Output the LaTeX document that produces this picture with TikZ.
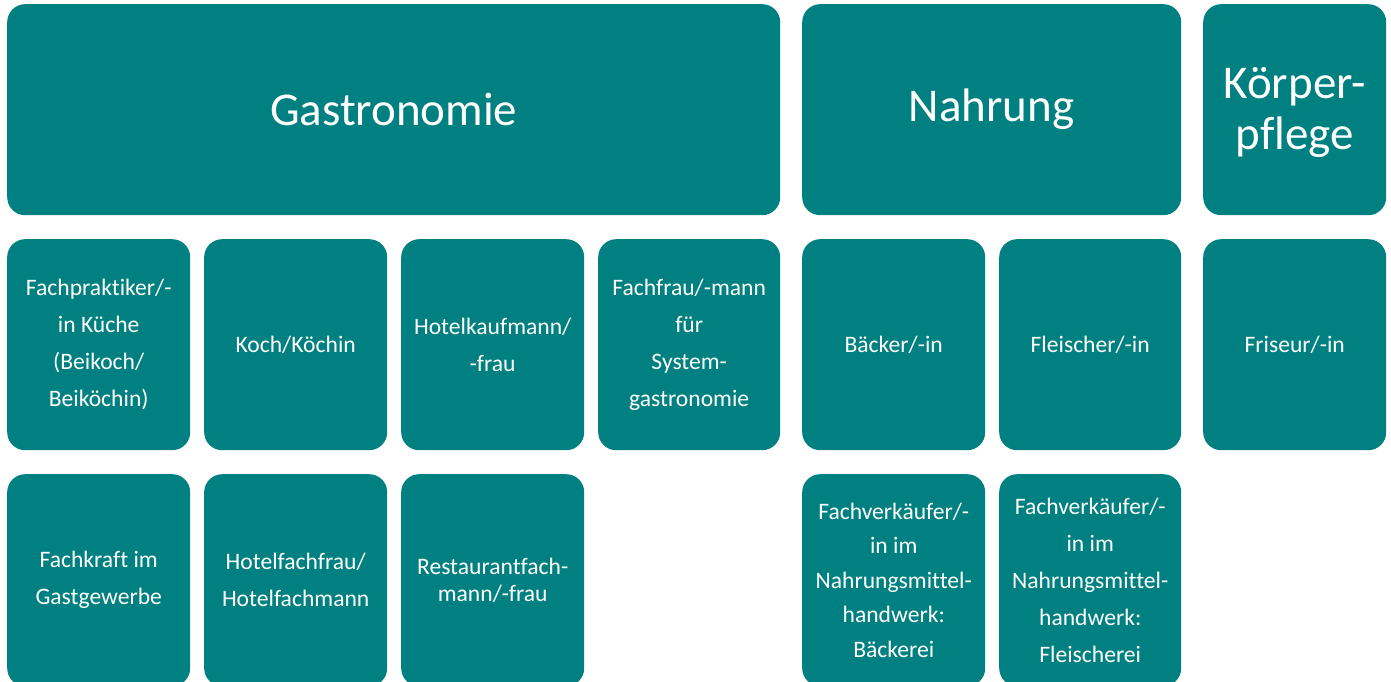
\documentclass[tikz,border=0pt]{standalone}
\usepackage{fontspec}
\setmainfont{Carlito}[Ligatures=NoCommon]
\definecolor{tealbox}{RGB}{0,128,128}
\begin{document}
\begin{tikzpicture}[x=1pt,y=-1pt,
  box/.style={fill=tealbox, rounded corners=18pt, inner sep=0pt, text=white,
    align=center, anchor=north west},
  big/.style={font=\fontsize{47}{51}\selectfont},
  small/.style={font=\fontsize{23.6}{37}\selectfont},
]
\useasboundingbox (0,0) rectangle (1391,682);
\clip (0,0) rectangle (1391,682);
\fill[white] (0,0) rectangle (1391,682);

% top row: categories
\node[box, big, minimum width=773, minimum height=211] (gastro) at (7,4) {Gastronomie};
\node[box, big, minimum width=379, minimum height=211] (nahrung) at (802,4) {Nahrung};
\node[box, big, minimum width=183, minimum height=211, text depth=3pt] (koerper) at (1203,4) {Körper-\\pflege};

% second row
\node[box, small, minimum width=183, minimum height=211] (fachprak) at (7,239)
  {Fachpraktiker/-\\in Küche\\(Beikoch/\\Beiköchin)};
\node[box, small, minimum width=183, minimum height=211] (koch) at (204,239) {Koch/Köchin};
\node[box, small, minimum width=183, minimum height=211] (hotelkauf) at (401,239) {Hotelkaufmann/\\-frau};
\node[box, small, minimum width=182, minimum height=211] (systemgastro) at (598,239)
  {Fachfrau/-mann\\für\\System-\\gastronomie};
\node[box, small, minimum width=183, minimum height=211] (baecker) at (802,239) {Bäcker/-in};
\node[box, small, minimum width=182, minimum height=211] (fleischer) at (999,239) {Fleischer/-in};
\node[box, small, minimum width=183, minimum height=211] (friseur) at (1203,239) {Friseur/-in};

% third row (continues below the lower edge)
\node[box, small, minimum width=183, minimum height=212] (fachkraft) at (7,474)
  {Fachkraft im\\Gastgewerbe};
\node[box, small, minimum width=183, minimum height=212] (hotelfach) at (204,474)
  {Hotelfachfrau/\\Hotelfachmann};
\node[box, font=\fontsize{23.6}{27}\selectfont, minimum width=183, minimum height=212] (restaurant) at (401,474)
  {Restaurantfach-\\mann/-frau};
\node[box, font=\fontsize{23.6}{34.5}\selectfont, minimum width=183, minimum height=212] (vkbaecker) at (802,474)
  {Fachverkäufer/-\\in im\\Nahrungsmittel-\\handwerk:\\Bäckerei};
\node[box, font=\fontsize{23.6}{37}\selectfont, minimum width=182, minimum height=212] (vkfleisch) at (999,474)
  {Fachverkäufer/-\\in im\\Nahrungsmittel-\\handwerk:\\Fleischerei};
\end{tikzpicture}
\end{document}
